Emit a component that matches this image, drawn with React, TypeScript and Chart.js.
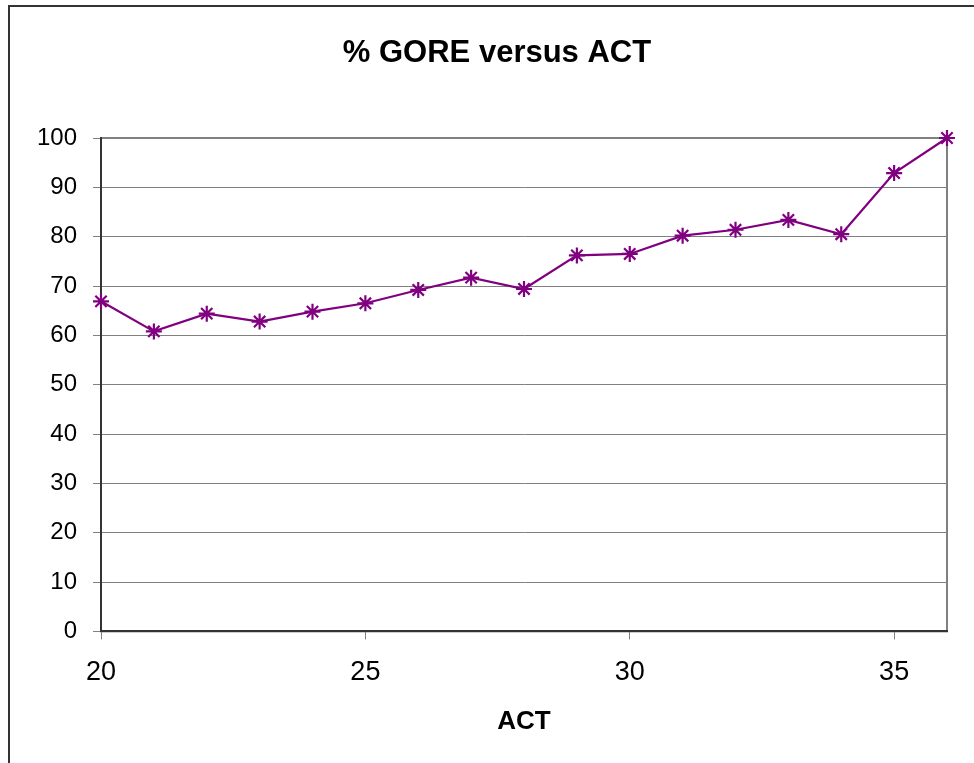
import React, { useEffect, useRef } from "react";
import { Chart, registerables } from "chart.js";

Chart.register(...registerables);

const titleText = "% GORE versus ACT";
const xAxisTitle = "ACT";
const actScores = [20, 21, 22, 23, 24, 25, 26, 27, 28, 29, 30, 31, 32, 33, 34, 35, 36];
const goreValues = [66.9, 60.8, 64.4, 62.8, 64.8, 66.5, 69.2, 71.7, 69.4, 76.2, 76.5, 80.2, 81.4, 83.4, 80.5, 92.9, 100];
const xMin = 20;
const xMax = 36;
const xStep = 5;
const yMin = 0;
const yMax = 100;
const yStep = 10;

const FONT = "Arial, 'Liberation Sans', sans-serif";

const framePlugin = {
  id: "frame",
  beforeDraw(chart: any) {
    const { ctx, chartArea } = chart;
    ctx.save();
    ctx.fillStyle = "#ffffff";
    ctx.fillRect(0, 0, chart.width, chart.height);
    ctx.strokeStyle = "#333333";
    ctx.lineWidth = 2;
    ctx.strokeRect(9, 6, chart.width - 18, chart.height + 20);
    ctx.strokeStyle = "#808080";
    ctx.lineWidth = 2;
    ctx.strokeRect(chartArea.left, chartArea.top, chartArea.right - chartArea.left, chartArea.bottom - chartArea.top);
    ctx.restore();
  },
  afterDraw(chart: any) {
    const { ctx } = chart;
    ctx.save();
    ctx.fillStyle = "#000000";
    ctx.font = `bold 31px ${FONT}`;
    ctx.textAlign = "center";
    ctx.textBaseline = "alphabetic";
    ctx.fillText(titleText, chart.width / 2, 62);
    ctx.restore();
  },
};

export default function App() {
  const ref = useRef<HTMLCanvasElement | null>(null);
  useEffect(() => {
    const canvas = ref.current;
    if (!canvas) return;
    const points = actScores.map((x, i) => ({ x, y: goreValues[i] }));
    const chart = new Chart(canvas, {
      type: "line",
      data: {
        datasets: [
          {
            data: points,
            borderColor: "#800080",
            backgroundColor: "#800080",
            borderWidth: 2.2,
            pointStyle: "star",
            pointRadius: 8,
            pointBorderWidth: 2.2,
            pointBorderColor: "#800080",
            pointBackgroundColor: "#800080",
            tension: 0,
            clip: false,
          } as any,
        ],
      },
      options: {
        animation: false,
        responsive: false,
        devicePixelRatio: 1,
        layout: { padding: { left: 0, right: 47, top: 138, bottom: 26 } },
        plugins: {
          legend: { display: false },
          tooltip: { enabled: false },
          title: { display: false },
        },
        scales: {
          x: {
            type: "linear",
            min: xMin,
            max: xMax,
            grid: {
              display: true,
              drawOnChartArea: false,
              drawTicks: true,
              tickLength: 8,
              tickColor: "#808080",
              tickWidth: 1,
            },
            border: { display: true, color: "#333333", width: 2 },
            ticks: {
              stepSize: xStep,
              includeBounds: false,
              color: "#000000",
              padding: 17,
              maxRotation: 0,
              font: { family: FONT, size: 27 },
            },
            title: {
              display: true,
              text: xAxisTitle,
              color: "#000000",
              font: { family: FONT, size: 26, weight: "bold" },
              padding: { top: 0, bottom: 0 },
            },
          },
          y: {
            type: "linear",
            min: yMin,
            max: yMax,
            afterFit(scale: any) {
              scale.width = 101;
            },
            grid: {
              display: true,
              color: "#808080",
              lineWidth: 1,
              drawTicks: true,
              tickLength: 8,
              tickColor: "#808080",
            },
            border: { display: true, color: "#333333", width: 2 },
            ticks: {
              stepSize: yStep,
              color: "#000000",
              padding: 16,
              font: { family: FONT, size: 24 },
            },
          },
        },
      },
      plugins: [framePlugin],
    });
    return () => chart.destroy();
  }, []);
  return (
    <div
      style={{
        position: "fixed",
        left: 0,
        top: 0,
        width: 974,
        height: 763,
        overflow: "hidden",
        background: "#ffffff",
      }}
    >
      <canvas ref={ref} width={994} height={763} style={{ display: "block", width: 994, height: 763 }} />
    </div>
  );
}
